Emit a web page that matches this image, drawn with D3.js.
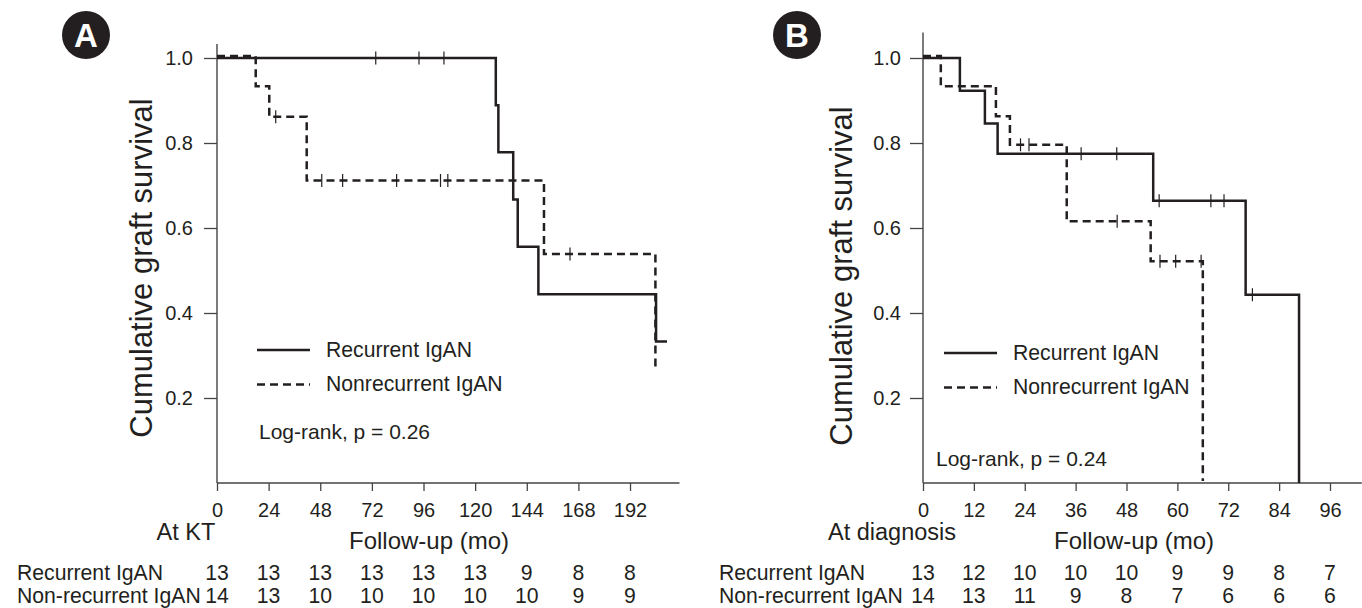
<!DOCTYPE html>
<html>
<head>
<meta charset="utf-8">
<script src="https://cdn.jsdelivr.net/npm/d3@7"></script>
<style>
  body { margin: 0; background: #fff; }
  svg text { font-family: "Liberation Sans", Arial, sans-serif; fill: #231f20; }
</style>
</head>
<body>
<div id="chart"></div>
<script>

// ---- Panel A: follow-up from kidney transplant (months)
const aTicks = [0, 24, 48, 72, 96, 120, 144, 168, 192];
const aRecTime = [0, 129.6, 130.8, 137.7, 139.8, 149.4, 204.1, 209.2];
const aRecSurv = [1, 0.889, 0.778, 0.667, 0.556, 0.444, 0.333, 0.333];
const aRecCensor = [73.8, 93.9, 105.5];
const aNonTime = [0, 18.0, 24.3, 41.7, 152.0, 203.8];
const aNonSurv = [1, 0.929, 0.857, 0.707, 0.534, 0.267];
const aNonCensor = [27.3, 48.7, 58.4, 83.5, 103.9, 107.3, 164.1];
const aRiskRec = [13, 13, 13, 13, 13, 13, 9, 8, 8];
const aRiskNon = [14, 13, 10, 10, 10, 10, 10, 9, 9];

// ---- Panel B: follow-up from diagnosis (months)
const bTicks = [0, 12, 24, 36, 48, 60, 72, 84, 96];
const bRecTime = [0, 8.7, 14.6, 17.6, 54.3, 76.1, 88.7];
const bRecSurv = [1, 0.923, 0.846, 0.775, 0.664, 0.443, 0];
const bRecCensor = [37.3, 45.7, 55.7, 67.9, 71.0, 77.7];
const bNonTime = [0, 4.2, 17.2, 20.5, 33.9, 53.7, 66.0];
const bNonSurv = [1, 0.929, 0.858, 0.791, 0.611, 0.517, 0];
const bNonCensor = [23.0, 25.0, 45.8, 55.9, 59.6, 65.6];
const bRiskRec = [13, 12, 10, 10, 10, 9, 9, 8, 7];
const bRiskNon = [14, 13, 11, 9, 8, 7, 6, 6, 6];

const yTicks = [0.2, 0.4, 0.6, 0.8, 1.0];
const groupNames = ["Recurrent IgAN", "Nonrecurrent IgAN"];
const riskNames = ["Recurrent IgAN", "Non-recurrent IgAN"];

const ink = "#231f20";

class KMChart {

    constructor(svg, cfg) {
        this.svg = svg;
        this.cfg = cfg;
        this.initVis();
    }

    initVis() {
        let vis = this;
        let c = vis.cfg;

        vis.g = vis.svg.append("g");

        vis.x = d3.scaleLinear()
            .domain([0, c.xMax])
            .range([c.left, c.right]);
        vis.y = d3.scaleLinear()
            .domain([0, 1])
            .range([483, 58]);

        vis.drawAxes();
        vis.drawCurves();
        vis.drawText();
    }

    drawAxes() {
        let vis = this;
        let c = vis.cfg;

        // axis lines
        vis.g.append("line")
            .attr("x1", vis.x(0)).attr("x2", vis.x(0))
            .attr("y1", vis.y(c.yTop)).attr("y2", vis.y(0))
            .attr("stroke", "#444").attr("stroke-width", 1.4);
        vis.g.append("line")
            .attr("x1", vis.x(0)).attr("x2", vis.x(c.xMax))
            .attr("y1", vis.y(0)).attr("y2", vis.y(0))
            .attr("stroke", "#444").attr("stroke-width", 1.4);

        let yAxis = d3.axisLeft(vis.y)
            .tickValues(yTicks)
            .tickFormat(d3.format(".1f"))
            .tickSize(13)
            .tickPadding(c.yPad);
        let ya = vis.g.append("g")
            .attr("transform", `translate(${vis.x(0)},0)`)
            .call(yAxis);
        ya.select(".domain").remove();
        ya.selectAll("line").attr("stroke", "#444").attr("stroke-width", 1.3);
        ya.selectAll("text").attr("font-size", 20).attr("font-family", null).attr("fill", ink);

        let xAxis = d3.axisBottom(vis.x)
            .tickValues(c.ticks)
            .tickSize(8)
            .tickPadding(12);
        let xa = vis.g.append("g")
            .attr("transform", `translate(0,${vis.y(0)})`)
            .call(xAxis);
        xa.select(".domain").remove();
        xa.selectAll("line").attr("stroke", "#444").attr("stroke-width", 1.3);
        xa.selectAll("text").attr("font-size", 20).attr("font-family", null).attr("fill", ink);
    }

    survAt(times, surv, t) {
        let i = d3.bisectRight(times, t) - 1;
        return surv[Math.max(0, i)];
    }

    drawCurves() {
        let vis = this;
        let c = vis.cfg;

        let line = d3.line()
            .x(d => vis.x(d[0]))
            .y(d => vis.y(d[1]))
            .curve(d3.curveStepAfter);

        let groups = [
            {time: c.nonTime, surv: c.nonSurv, censor: c.nonCensor, dash: "8,5", dy: -2},
            {time: c.recTime, surv: c.recSurv, censor: c.recCensor, dash: null, dy: 0}
        ];

        groups.forEach(s => {
            let gg = vis.g.append("g").attr("transform", `translate(0,${s.dy})`);
            gg.append("path")
                .datum(d3.zip(s.time, s.surv))
                .attr("d", line)
                .attr("fill", "none")
                .attr("stroke", ink)
                .attr("stroke-width", 2.5)
                .attr("stroke-dasharray", s.dash);

            gg.selectAll(".censor")
                .data(s.censor)
                .enter().append("line")
                .attr("class", "censor")
                .attr("x1", d => vis.x(d)).attr("x2", d => vis.x(d))
                .attr("y1", d => vis.y(vis.survAt(s.time, s.surv, d)) - 6.5)
                .attr("y2", d => vis.y(vis.survAt(s.time, s.surv, d)) + 6.5)
                .attr("stroke", ink)
                .attr("stroke-width", 1.2);
        });
    }

    drawText() {
        let vis = this;
        let c = vis.cfg;

        // panel badge
        vis.g.append("circle")
            .attr("cx", c.badgeX).attr("cy", 35).attr("r", 24)
            .attr("fill", ink);
        vis.g.append("text")
            .attr("x", c.badgeX).attr("y", 47)
            .attr("text-anchor", "middle")
            .attr("font-size", 33).attr("font-weight", "bold")
            .attr("stroke", ink).attr("stroke-width", 3)
            .attr("paint-order", "stroke")
            .style("fill", "#fff")
            .text(c.id);

        // y label
        vis.g.append("text")
            .attr("transform", `translate(${c.yLabelX},${c.yLabelY}) rotate(-90)`)
            .attr("text-anchor", "middle")
            .attr("font-size", 31)
            .text("Cumulative graft survival");

        // legend
        groupNames.forEach((name, i) => {
            let ly = c.legendY + i * 34.5;
            vis.g.append("line")
                .attr("x1", c.legendX).attr("x2", c.legendX + 53)
                .attr("y1", ly).attr("y2", ly)
                .attr("stroke", ink).attr("stroke-width", 2.5)
                .attr("stroke-dasharray", i === 1 ? "8,5" : null);
            vis.g.append("text")
                .attr("x", c.legendX + 69).attr("y", ly + 6.5)
                .attr("font-size", 21.2)
                .text(name);
        });

        vis.g.append("text")
            .attr("x", c.logX).attr("y", c.logY)
            .attr("font-size", 21)
            .text(c.logText);

        // x axis titles
        vis.g.append("text")
            .attr("x", vis.x(0) - 31).attr("y", 540)
            .attr("text-anchor", "middle")
            .attr("font-size", 23.5)
            .text(c.startLabel);
        vis.g.append("text")
            .attr("x", c.followX).attr("y", 549)
            .attr("text-anchor", "middle")
            .attr("font-size", 24)
            .text("Follow-up (mo)");

        // number at risk
        [c.riskRec, c.riskNon].forEach((row, i) => {
            let ry = 580 + i * 23;
            vis.g.append("text")
                .attr("x", c.rowX).attr("y", ry)
                .attr("font-size", 21.2)
                .text(riskNames[i]);
            vis.g.selectAll(".risk" + i)
                .data(row)
                .enter().append("text")
                .attr("class", "risk" + i)
                .attr("x", (d, j) => vis.x(c.ticks[j]))
                .attr("y", ry)
                .attr("text-anchor", "middle")
                .attr("font-size", 21.2)
                .text(d => d);
        });
    }
}

const svg = d3.select("#chart").append("svg")
    .attr("width", 1362)
    .attr("height", 608);

new KMChart(svg, {
    id: "A", badgeX: 86,
    left: 217, right: 679.5, xMax: 215, ticks: aTicks,
    yTop: 1.033, yPad: 11,
    yLabelX: 152, yLabelY: 268,
    legendX: 257, legendY: 350,
    logX: 259, logY: 439, logText: "Log-rank, p = 0.26",
    startLabel: "At KT", followX: 429,
    rowX: 17,
    recTime: aRecTime, recSurv: aRecSurv, recCensor: aRecCensor,
    nonTime: aNonTime, nonSurv: aNonSurv, nonCensor: aNonCensor,
    riskRec: aRiskRec, riskNon: aRiskNon
});

new KMChart(svg, {
    id: "B", badgeX: 797,
    left: 923, right: 1361.8, xMax: 103.5, ticks: bTicks,
    yTop: 1.06, yPad: 9,
    yLabelX: 852, yLabelY: 276,
    legendX: 944, legendY: 353,
    logX: 936, logY: 466, logText: "Log-rank, p = 0.24",
    startLabel: "At diagnosis", followX: 1134,
    rowX: 719,
    recTime: bRecTime, recSurv: bRecSurv, recCensor: bRecCensor,
    nonTime: bNonTime, nonSurv: bNonSurv, nonCensor: bNonCensor,
    riskRec: bRiskRec, riskNon: bRiskNon
});

</script>
</body>
</html>
